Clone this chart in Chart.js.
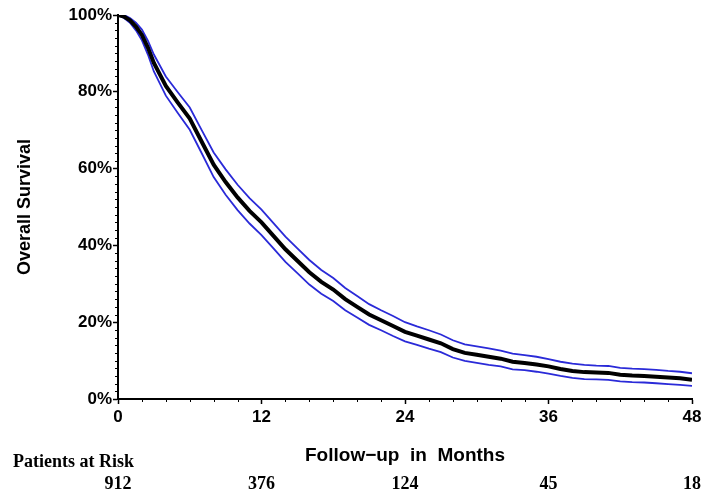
<!DOCTYPE html>
<html>
<head>
<meta charset="utf-8">
<script src="https://cdn.jsdelivr.net/npm/chart.js@4/dist/chart.umd.min.js"></script>
<style>
html,body{margin:0;padding:0;background:#fff;}
#wrap{width:708px;height:502px;}
</style>
</head>
<body>
<div id="wrap"><canvas id="c" width="708" height="502"></canvas></div>
<script>
// ---- data ----
const months = [0,0.5,1,1.5,2,2.5,3,4,5,6,7,8,9,10,11,12,13,14,15,16,17,18,19,20,21,22,23,24,25,26,27,28,29,30,31,32,33,34,35,36,37,38,39,40,41,42,43,44,45,46,47,48];
const survival = [100,99.6,98.6,97,94.8,91.5,87.5,81.5,77.2,73,67,61,56.5,52.5,49,46,42.5,39,36,33,30.5,28.5,26,24,22,20.5,19,17.5,16.5,15.5,14.5,13,12,11.5,11,10.5,9.7,9.4,9.0,8.5,7.8,7.3,7.0,6.9,6.8,6.3,6.1,6.0,5.8,5.6,5.4,5.0];
const upperCI = [100,100,99.2,98,96.2,93.3,89.7,84,79.9,75.9,70,64.2,59.8,55.8,52.3,49.3,45.8,42.3,39.2,36.2,33.6,31.5,28.9,26.8,24.7,23.1,21.6,20,18.9,17.9,16.8,15.3,14.2,13.7,13.2,12.6,11.8,11.4,11,10.4,9.7,9.2,8.9,8.7,8.6,8.1,7.9,7.8,7.6,7.3,7.1,6.7];
const lowerCI = [100,99.2,98,96,93.4,89.7,85.3,79,74.5,70.1,64,57.8,53.2,49.2,45.7,42.7,39.2,35.7,32.8,29.8,27.4,25.5,23.1,21.2,19.3,17.9,16.4,15,14.1,13.1,12.2,10.8,9.9,9.4,8.9,8.5,7.7,7.5,7.1,6.6,6,5.5,5.2,5.1,5,4.6,4.4,4.3,4.1,3.9,3.7,3.4];
const xTicks = [0,12,24,36,48];
const yTicks = [0,20,40,60,80,100];
const riskTimes = [0,12,24,36,48];
const riskCounts = [912,376,124,45,18];
const riskLabel = 'Patients at Risk';
const xTitle = 'Follow\u2212up  in  Months';
const yTitle = 'Overall Survival';

const pts = arr => months.map((m,i)=>({x:m,y:arr[i]}));

const minorTicks = {
  id:'minorTicks',
  afterDraw(chart){
    const ctx = chart.ctx, xs = chart.scales.x, ys = chart.scales.y;
    const area = chart.chartArea;
    ctx.save();
    ctx.strokeStyle = '#000';
    ctx.lineWidth = 1;
    for(let v=2; v<48; v+=2){
      if (v%12===0) continue;
      const px = Math.round(xs.getPixelForValue(v))+0.5;
      ctx.beginPath(); ctx.moveTo(px, area.bottom); ctx.lineTo(px, area.bottom+3); ctx.stroke();
    }
    for(let v=2; v<100; v+=2){
      if (v%20===0) continue;
      const py = Math.round(ys.getPixelForValue(v))+0.5;
      ctx.beginPath(); ctx.moveTo(area.left, py); ctx.lineTo(area.left-3, py); ctx.stroke();
    }
    // risk table
    ctx.fillStyle = '#000';
    ctx.font = 'bold 18px "Liberation Serif", "Times New Roman", serif';
    ctx.textBaseline = 'middle';
    ctx.textAlign = 'left';
    ctx.fillText(riskLabel, 13, 462);
    ctx.textAlign = 'center';
    riskTimes.forEach((t,i)=>{
      let px = xs.getPixelForValue(t);
      ctx.fillText(String(riskCounts[i]), px, 484);
    });
    ctx.restore();
  }
};

new Chart(document.getElementById('c'), {
  type:'line',
  data:{
    datasets:[
      {label:'Survival', data:pts(survival), borderColor:'#000', borderWidth:4, pointRadius:0, tension:0, fill:false},
      {label:'Upper 95% CI', data:pts(upperCI), borderColor:'#2a2ad8', borderWidth:1.8, pointRadius:0, tension:0, fill:false},
      {label:'Lower 95% CI', data:pts(lowerCI), borderColor:'#2a2ad8', borderWidth:1.8, pointRadius:0, tension:0, fill:false}
    ]
  },
  options:{
    responsive:false,
    animation:false,
    events:[],
    layout:{padding:{top:15,right:16,left:0,bottom:0}},
    plugins:{legend:{display:false}, tooltip:{enabled:false}},
    scales:{
      x:{
        type:'linear', min:0, max:48,
        afterBuildTicks(s){ s.ticks = xTicks.map(v=>({value:v})); },
        afterFit(s){ s.height = 103; },
        border:{display:true,color:'#000',width:2},
        grid:{display:true, drawOnChartArea:false, drawTicks:true, tickLength:5, tickColor:'#000', tickWidth:1.5},
        ticks:{color:'#000', padding:3, maxRotation:0, autoSkip:false, font:{family:'"Liberation Sans", Arial, sans-serif', weight:'bold', size:17}},
        title:{display:true, text:xTitle, color:'#000', font:{family:'"Liberation Sans", Arial, sans-serif', weight:'bold', size:19}, padding:{top:0,bottom:35}}
      },
      y:{
        type:'linear', min:0, max:100,
        afterBuildTicks(s){ s.ticks = yTicks.map(v=>({value:v})); },
        afterFit(s){ s.width = 118; },
        border:{display:true,color:'#000',width:2},
        grid:{display:true, drawOnChartArea:false, drawTicks:true, tickLength:5, tickColor:'#000', tickWidth:1.5},
        ticks:{color:'#000', padding:1, callback:v=>v+'%', font:{family:'"Liberation Sans", Arial, sans-serif', weight:'bold', size:17}},
        title:{display:true, text:yTitle, color:'#000', font:{family:'"Liberation Sans", Arial, sans-serif', weight:'bold', size:18}, padding:{top:14,bottom:0}}
      }
    }
  },
  plugins:[minorTicks]
});
</script>
</body>
</html>
